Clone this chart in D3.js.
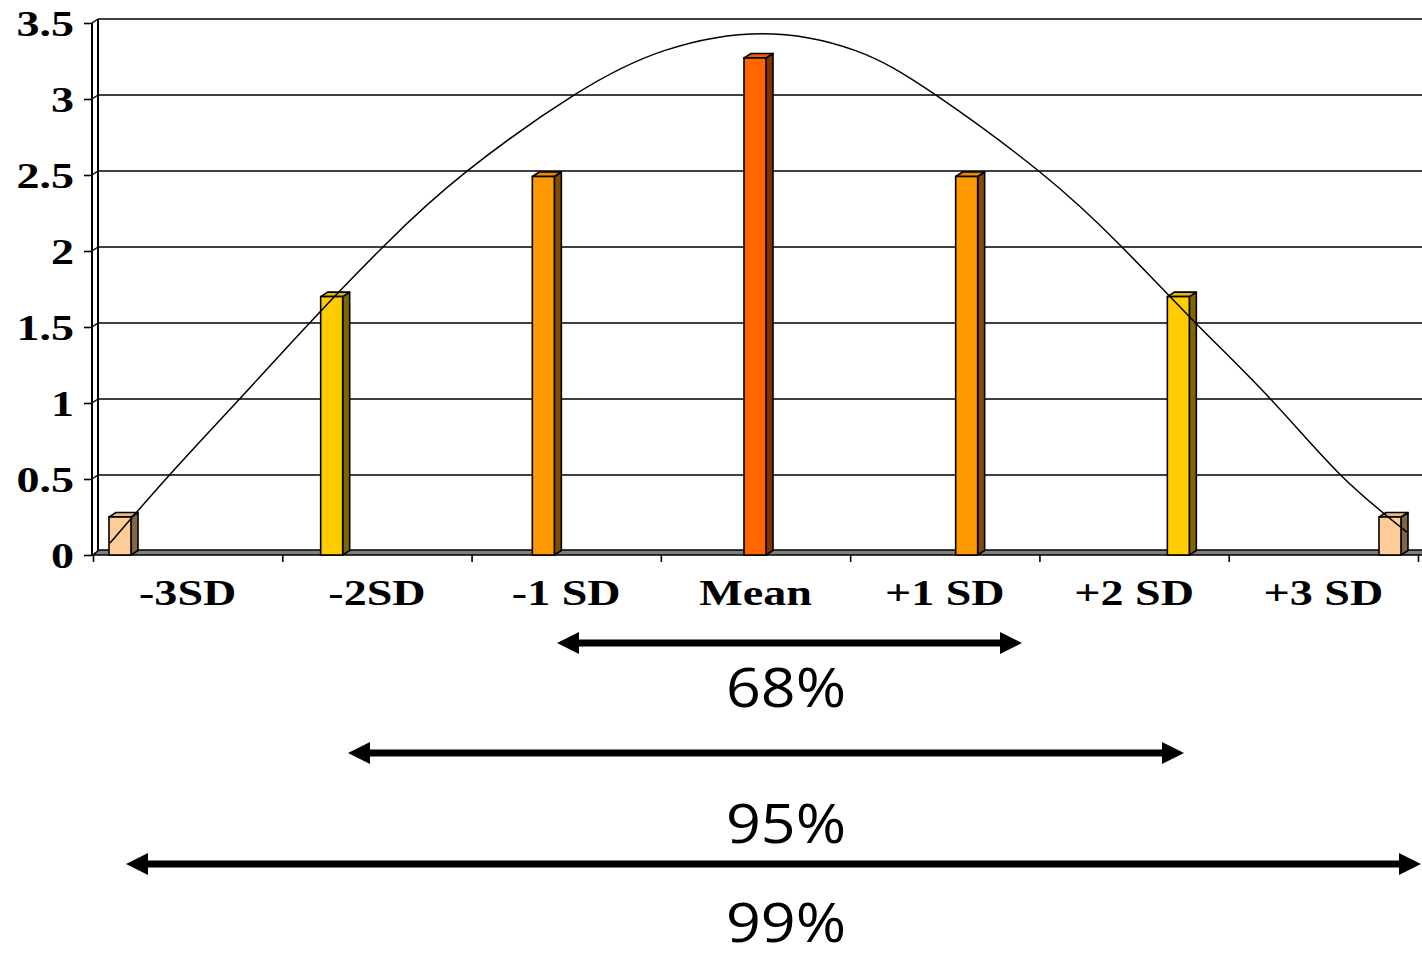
<!DOCTYPE html>
<html>
<head>
<meta charset="utf-8">
<script src="https://cdn.jsdelivr.net/npm/d3@7"></script>
<style>
  html, body { margin: 0; padding: 0; background: #ffffff; overflow: hidden; }
  svg { display: block; }
</style>
</head>
<body>
<script>
// ---------- data ----------
const categories   = ["-3SD", "-2SD", "-1 SD", "Mean", "+1 SD", "+2 SD", "+3 SD"];
const barValues    = [0.25, 1.7, 2.49, 3.27, 2.49, 1.7, 0.25];
const barColors    = ["#FFCC99", "#FFCC00", "#FF9900", "#FF6600", "#FF9900", "#FFCC00", "#FFCC99"];
const yTicks       = [0, 0.5, 1, 1.5, 2, 2.5, 3, 3.5];
const yTickLabels  = ["0", "0.5", "1", "1.5", "2", "2.5", "3", "3.5"];
// hand-drawn bell curve, x in bar-index units, y in value units
const curveX = [-0.047, 0.236, 0.567, 0.898, 1.252, 1.635, 2.150, 2.575, 3.033, 3.472, 3.850, 4.346, 4.724, 5.079, 5.433, 5.764, 6.080];
const curveY = [0.079, 0.53, 1.03, 1.53, 2.04, 2.52, 3.03, 3.32, 3.43, 3.32, 3.03, 2.52, 2.04, 1.53, 1.03, 0.53, 0.15];
const rangeLabels = ["68%", "95%", "99%"];

// ---------- layout ----------
const W = 1422, H = 959;
const axisX = 92, backX = 98, floorY = 555, depthX = 6, depthY = -4.5;
const arrows = [ {x0: 557, x1: 1022, y: 643, ty: 707},
                 {x0: 348, x1: 1184, y: 753, ty: 843},
                 {x0: 126, x1: 1421, y: 864, ty: 942} ];
const serifScale = 1.28;

const svg = d3.select("body").append("svg").attr("width", W).attr("height", H);

const y = d3.scaleLinear().domain([0, 3.5]).range([floorY, 23]);
const xBand = d3.scaleBand().domain(categories).range([93, 1418]);
const xBound = d3.scaleLinear().domain([0, categories.length]).range([93, 1418]);
const xBar = d3.scalePoint().domain(categories).range([120, 1390]);
const xIdx = d3.scaleLinear().domain([0, categories.length - 1]).range([120, 1390]);

// back wall gridlines
const grid = svg.append("g");
yTicks.filter(v => v > 0).forEach(v => {
  grid.append("line").attr("x1", backX).attr("x2", W + 10)
    .attr("y1", y(v) - 4).attr("y2", y(v) - 4)
    .attr("stroke", "#000").attr("stroke-width", 1.5);
  grid.append("line").attr("x1", axisX).attr("x2", backX)
    .attr("y1", y(v)).attr("y2", y(v) - 4)
    .attr("stroke", "#000").attr("stroke-width", 1.5);
});

// left wall
svg.append("line").attr("x1", backX).attr("x2", backX).attr("y1", y(3.5) - 4).attr("y2", floorY - 4)
  .attr("stroke", "#000").attr("stroke-width", 2);
svg.append("line").attr("x1", axisX).attr("x2", axisX).attr("y1", y(3.5)).attr("y2", floorY)
  .attr("stroke", "#000").attr("stroke-width", 2);

// floor
svg.append("polygon")
  .attr("points", [[93, floorY], [W + 10, floorY], [W + 16, floorY - 5], [99, floorY - 5]].map(p => p.join(",")).join(" "))
  .attr("fill", "#808080").attr("stroke", "#000").attr("stroke-width", 1.6);

// y axis
const yAxis = d3.axisLeft(y).tickValues(yTicks).tickSize(8).tickFormat((d, i) => yTickLabels[i]);
const gy = svg.append("g").attr("transform", `translate(${axisX},0)`).call(yAxis);
gy.select(".domain").remove();
gy.selectAll(".tick line").attr("stroke", "#000").attr("stroke-width", 1.6);
gy.selectAll(".tick text")
  .attr("x", -18 / serifScale).attr("y", 0).attr("dy", 12)
  .attr("transform", `scale(${serifScale},1)`)
  .attr("fill", "#000")
  .style("font-family", "'Liberation Serif','Times New Roman',serif")
  .style("font-weight", "bold").style("font-size", "36px")
  .attr("text-anchor", "end");

// x axis boundary ticks
const xTickAxis = d3.axisBottom(xBound).tickValues(d3.range(categories.length + 1)).tickSize(7).tickFormat("");
const gxt = svg.append("g").attr("transform", `translate(0,${floorY})`).call(xTickAxis);
gxt.select(".domain").remove();
gxt.selectAll(".tick line").attr("stroke", "#000").attr("stroke-width", 1.6);

// x axis labels
const xAxis = d3.axisBottom(xBand).tickSize(0);
const gx = svg.append("g").attr("transform", `translate(0,${floorY})`).call(xAxis);
gx.select(".domain").remove();
gx.selectAll(".tick text")
  .attr("y", 50).attr("dy", 0)
  .attr("transform", `scale(${serifScale},1)`)
  .attr("x", 0)
  .attr("fill", "#000")
  .style("font-family", "'Liberation Serif','Times New Roman',serif")
  .style("font-weight", "bold").style("font-size", "36px")
  .attr("text-anchor", "middle");

// 3D bars
const bw = 22;
const bars = svg.append("g");
categories.forEach((c, i) => {
  const v = barValues[i];
  const col = d3.color(barColors[i]);
  const x0 = xBar(c) - bw / 2, x1 = xBar(c) + bw / 2;
  const yt = y(v), yb = floorY;
  const sideCol = d3.rgb(col.r * 0.5, col.g * 0.5, col.b * 0.45);
  const topCol = d3.rgb(col.r * 0.92, col.g * 0.9, col.b * 0.9);
  const pts = a => a.map(p => p.join(",")).join(" ");
  bars.append("polygon")
    .attr("points", pts([[x1, yb], [x1, yt], [x1 + depthX + 1, yt + depthY], [x1 + depthX + 1, yb + depthY]]))
    .attr("fill", sideCol).attr("stroke", "#000").attr("stroke-width", 1.6).attr("stroke-linejoin", "round");
  bars.append("polygon")
    .attr("points", pts([[x0, yt], [x0 + depthX + 1, yt + depthY], [x1 + depthX + 1, yt + depthY], [x1, yt]]))
    .attr("fill", topCol).attr("stroke", "#000").attr("stroke-width", 1.6).attr("stroke-linejoin", "round");
  bars.append("rect")
    .attr("x", x0).attr("y", yt).attr("width", bw).attr("height", yb - yt)
    .attr("fill", col).attr("stroke", "#000").attr("stroke-width", 1.6);
});

// bell curve
const line = d3.line().x(d => xIdx(d[0])).y(d => y(d[1])).curve(d3.curveNatural);
svg.append("path")
  .datum(curveX.map((cx, i) => [cx, curveY[i]]))
  .attr("d", line)
  .attr("fill", "none").attr("stroke", "#000").attr("stroke-width", 1.5);

// range arrows and labels
const headL = 22, headH = 11, shaft = 3.6;
arrows.forEach((a, i) => {
  const p = [
    [a.x0, a.y], [a.x0 + headL, a.y - headH], [a.x0 + headL, a.y - shaft],
    [a.x1 - headL, a.y - shaft], [a.x1 - headL, a.y - headH], [a.x1, a.y],
    [a.x1 - headL, a.y + headH], [a.x1 - headL, a.y + shaft],
    [a.x0 + headL, a.y + shaft], [a.x0 + headL, a.y + headH]
  ];
  svg.append("polygon").attr("points", p.map(q => q.join(",")).join(" ")).attr("fill", "#000");
  svg.append("text")
    .attr("transform", `translate(786,${a.ty}) scale(1.13,1)`)
    .attr("text-anchor", "middle")
    .style("font-family", "'Open Sans','Noto Sans',sans-serif")
    .style("font-size", "54px")
    .attr("fill", "#000")
    .text(rangeLabels[i]);
});
</script>
</body>
</html>
